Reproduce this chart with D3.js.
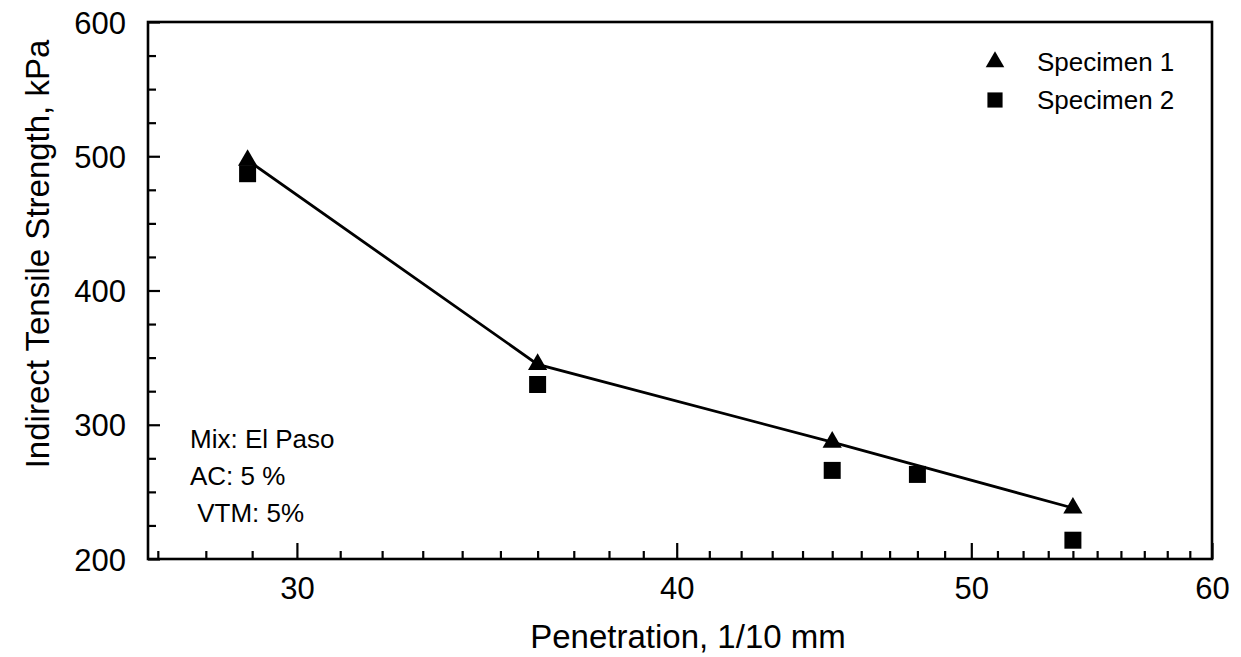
<!DOCTYPE html>
<html>
<head>
<meta charset="utf-8">
<script src="https://cdn.jsdelivr.net/npm/d3@7"></script>
<style>
  body { margin: 0; background: #fff; }
  text { font-family: "Liberation Sans", Arial, sans-serif; fill: #000; }
</style>
</head>
<body>
<script>
// chart data
const penetration1 = [28.9, 36, 45, 54];
const strength1 = [497, 345, 287, 238];
const penetration2 = [28.9, 36, 45, 48, 54];
const strength2 = [487, 330, 266, 263, 214];
const xMajorTicks = [30, 40, 50, 60];
const yMajorTicks = [200, 300, 400, 500, 600];
const legendLabels = ["Specimen 1", "Specimen 2"];
const noteLines = ["Mix: El Paso", "AC: 5 %", " VTM: 5%"];

const w = 1241;
const h = 657;
const margin = { top: 22, bottom: 98, left: 148, right: 29 };

const svg = d3.select("body")
              .append("svg")
                .attr("width", w)
                .attr("height", h);

//log scale on x, the tick spacing in the picture shrinks to the right
const x = d3.scaleLog()
            .domain([26.8, 60])
            .range([margin.left, w - margin.right]);

const y = d3.scaleLinear()
            .domain([200, 600])
            .range([h - margin.bottom, margin.top]);

const xMinor = d3.range(27, 60).filter(v => xMajorTicks.indexOf(v) < 0);
const yMinor = d3.range(225, 600, 25).filter(v => yMajorTicks.indexOf(v) < 0);

const bottom = h - margin.bottom;

//minor ticks, inward
svg.append("g")
  .attr("transform", "translate(0," + bottom + ")")
  .call(d3.axisBottom(x).tickValues(xMinor).tickSize(-8).tickFormat(""))
  .call(g => g.select(".domain").remove())
  .selectAll("line").attr("stroke-width", 2.2);

//major ticks with labels
const xAxis = svg.append("g")
  .attr("transform", "translate(0," + bottom + ")")
  .call(d3.axisBottom(x).tickValues(xMajorTicks).tickSizeInner(-16).tickSizeOuter(0)
          .tickPadding(40).tickFormat(d3.format("d")));
xAxis.select(".domain").remove();
xAxis.selectAll("line").attr("stroke-width", 2.2);
xAxis.selectAll("text").style("font-size", "31px").attr("dy", "0");

svg.append("g")
  .attr("transform", "translate(" + margin.left + ",0)")
  .call(d3.axisLeft(y).tickValues(yMinor).tickSize(-8).tickFormat(""))
  .call(g => g.select(".domain").remove())
  .selectAll("line").attr("stroke-width", 2.2);

const yAxis = svg.append("g")
  .attr("transform", "translate(" + margin.left + ",0)")
  .call(d3.axisLeft(y).tickValues(yMajorTicks).tickSizeInner(-12).tickSizeOuter(0)
          .tickPadding(22).tickFormat(d3.format("d")));
yAxis.select(".domain").remove();
yAxis.selectAll("line").attr("stroke-width", 2.2);
yAxis.selectAll("text").style("font-size", "31px").attr("dy", "0.36em");

//frame
svg.append("rect")
  .attr("x", margin.left)
  .attr("y", margin.top)
  .attr("width", w - margin.left - margin.right)
  .attr("height", bottom - margin.top)
  .attr("fill", "none")
  .attr("stroke", "#000")
  .attr("stroke-width", 2.6);

//axis titles
svg.append("text")
  .attr("x", 688)
  .attr("y", 648)
  .attr("text-anchor", "middle")
  .style("font-size", "33px")
  .text("Penetration, 1/10 mm");

svg.append("text")
  .attr("transform", "translate(49,254) rotate(-90)")
  .attr("text-anchor", "middle")
  .style("font-size", "33px")
  .text("Indirect Tensile Strength, kPa");

//trend line through specimen 1
const pts1 = penetration1.map((p, i) => [p, strength1[i]]);
const pts2 = penetration2.map((p, i) => [p, strength2[i]]);

const line = d3.line()
  .x(d => x(d[0]))
  .y(d => y(d[1]));

svg.append("path")
  .datum(pts1)
  .attr("d", line)
  .attr("fill", "none")
  .attr("stroke", "#000")
  .attr("stroke-width", 2.8);

const tri = d3.symbol().type(d3.symbolTriangle).size(160);
const sq = d3.symbol().type(d3.symbolSquare).size(289);

svg.selectAll(".sq")
  .data(pts2)
  .enter()
    .append("path")
    .classed("sq", true)
    .attr("d", sq)
    .attr("transform", d => "translate(" + x(d[0]) + "," + y(d[1]) + ")")
    .attr("fill", "#000");

svg.selectAll(".tri")
  .data(pts1)
  .enter()
    .append("path")
    .classed("tri", true)
    .attr("d", tri)
    .attr("transform", d => "translate(" + x(d[0]) + "," + y(d[1]) + ")")
    .attr("fill", "#000");

//legend
const legend = svg.append("g").attr("transform", "translate(995,0)");
[tri, sq].forEach((sym, i) => {
  legend.append("path")
    .attr("d", sym.size(i === 0 ? 150 : 230))
    .attr("transform", "translate(0," + (62 + i * 38) + ")")
    .attr("fill", "#000");
  legend.append("text")
    .attr("x", 42)
    .attr("y", 62 + i * 38)
    .attr("dy", "0.36em")
    .style("font-size", "26px")
    .text(legendLabels[i]);
});

//note block
svg.selectAll(".note")
  .data(noteLines)
  .enter()
    .append("text")
    .classed("note", true)
    .attr("x", 190)
    .attr("y", (d, i) => 448 + i * 37)
    .style("font-size", "26px")
    .attr("xml:space", "preserve")
    .text(d => d);
</script>
</body>
</html>
